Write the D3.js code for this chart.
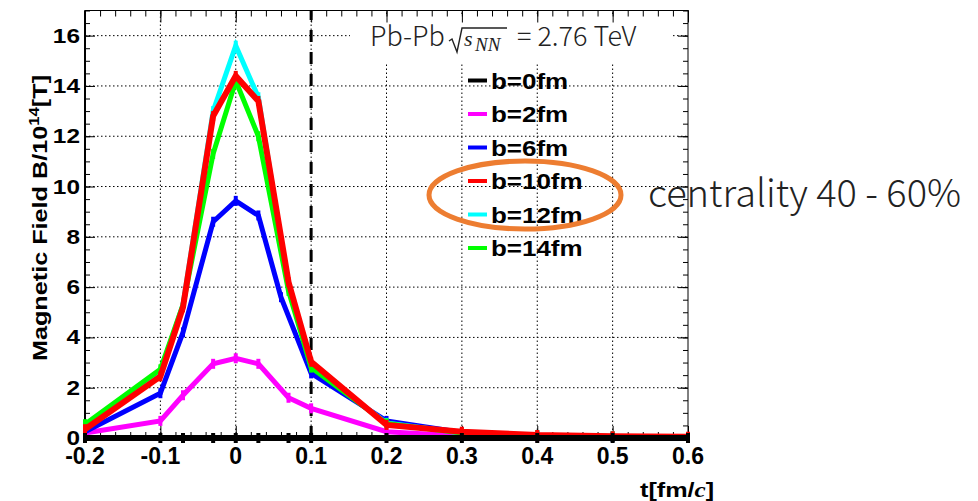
<!DOCTYPE html>
<html>
<head>
<meta charset="utf-8">
<script src="https://cdn.jsdelivr.net/npm/d3@7"></script>
<style>
  body { margin: 0; background: #fff; }
</style>
</head>
<body>
<div id="chart"></div>
<script>
// time points [fm/c]
var times = [-0.2, -0.1, -0.07, -0.03, 0, 0.03, 0.07, 0.1, 0.2, 0.3, 0.4, 0.5, 0.6];
var timesB6 = [-0.2, -0.1, -0.07, -0.03, 0, 0.03, 0.06, 0.1, 0.2, 0.3, 0.4, 0.5, 0.6];

// B / 10^14 T for each impact parameter
var b0 = [0, 0, 0, 0, 0, 0, 0, 0, 0, 0, 0, 0, 0];
var b2 = [0.2, 0.68, 1.7, 2.95, 3.17, 2.95, 1.6, 1.18, 0.25, 0.08, 0.05, 0.04, 0.03];
var b6 = [0.25, 1.78, 4.2, 8.6, 9.43, 8.85, 5.6, 2.57, 0.68, 0.22, 0.1, 0.06, 0.04];
var b10 = [0.35, 2.45, 5.2, 12.8, 14.4, 13.4, 6.2, 3.03, 0.52, 0.25, 0.12, 0.07, 0.05];
var b12 = [0.45, 2.6, 5.3, 13.0, 15.6, 13.55, 6.0, 2.85, 0.6, 0.2, 0.1, 0.06, 0.04];
var b14 = [0.55, 2.73, 5.3, 11.3, 14.2, 12.0, 5.85, 2.8, 0.58, 0.2, 0.1, 0.06, 0.04];

var seriesNames = ['b=0fm', 'b=2fm', 'b=6fm', 'b=10fm', 'b=12fm', 'b=14fm'];

var xTicks = [-0.2, -0.1, 0, 0.1, 0.2, 0.3, 0.4, 0.5, 0.6];
var xTickLabels = ['-0.2', '-0.1', '0', '0.1', '0.2', '0.3', '0.4', '0.5', '0.6'];
var yTicks = [0, 2, 4, 6, 8, 10, 12, 14, 16];
var yTickLabels = ['0', '2', '4', '6', '8', '10', '12', '14', '16'];
var cutTime = 0.1;

var series = [
  {name: seriesNames[0], t: times, v: b0, colour: '#000000', w: 6},
  {name: seriesNames[1], t: times, v: b2, colour: '#ff00ff', w: 5},
  {name: seriesNames[2], t: timesB6, v: b6, colour: '#0000ff', w: 5},
  {name: seriesNames[3], t: times, v: b10, colour: '#ff0000', w: 6},
  {name: seriesNames[4], t: times, v: b12, colour: '#00ffff', w: 5},
  {name: seriesNames[5], t: times, v: b14, colour: '#00ff00', w: 5}
];
var drawOrder = [1, 2, 4, 5, 3, 0];

var svg = d3.select('#chart')
  .append('svg')
    .attr('width', 978)
    .attr('height', 501);

var x = d3.scaleLinear().domain([-0.2, 0.6]).range([85, 688]);
var y = d3.scaleLinear().domain([0, 17]).range([438, 10.5]);

var xMinor = d3.range(-20, 61, 2).map(d => d / 100);
var yMinor = d3.range(0, 34.5, 1).map(d => d / 2);

// grid
var grid = svg.append('g');
grid.selectAll('.gx')
  .data(xTicks.slice(1, -1))
  .enter().append('line')
    .attr('x1', d => x(d)).attr('x2', d => x(d))
    .attr('y1', y(0)).attr('y2', y(17))
    .attr('stroke', '#000').attr('stroke-width', 1)
    .attr('stroke-dasharray', '1.5,2.5');
grid.selectAll('.gy')
  .data(yTicks.slice(1))
  .enter().append('line')
    .attr('x1', x(-0.2)).attr('x2', x(0.6))
    .attr('y1', d => y(d)).attr('y2', d => y(d))
    .attr('stroke', '#000').attr('stroke-width', 1)
    .attr('stroke-dasharray', '1.5,2.5');

// white box behind the collision label
svg.append('rect')
  .attr('x', 350).attr('y', 15).attr('width', 323).attr('height', 47)
  .attr('fill', '#fff');

// vertical cut line
svg.append('line')
  .attr('x1', x(cutTime)).attr('x2', x(cutTime))
  .attr('y1', y(0)).attr('y2', y(17))
  .attr('stroke', '#000').attr('stroke-width', 3)
  .attr('stroke-dasharray', '12,10');

// ticks
function tickAxis(axis, tx, ty) {
  var g = svg.append('g').attr('transform', 'translate(' + tx + ',' + ty + ')').call(axis);
  g.select('.domain').remove();
  g.selectAll('line').attr('stroke', '#000').attr('stroke-width', 1);
  return g;
}
tickAxis(d3.axisBottom(x).tickValues(xTicks).tickSize(-12).tickFormat(''), 0, y(0));
tickAxis(d3.axisBottom(x).tickValues(xMinor).tickSize(-6).tickFormat(''), 0, y(0));
tickAxis(d3.axisTop(x).tickValues(xTicks).tickSize(-12).tickFormat(''), 0, y(17));
tickAxis(d3.axisTop(x).tickValues(xMinor).tickSize(-6).tickFormat(''), 0, y(17));
tickAxis(d3.axisLeft(y).tickValues(yTicks).tickSize(-10).tickFormat(''), x(-0.2), 0);
tickAxis(d3.axisLeft(y).tickValues(yMinor).tickSize(-5).tickFormat(''), x(-0.2), 0);
tickAxis(d3.axisRight(y).tickValues(yTicks).tickSize(-10).tickFormat(''), x(0.6), 0);
tickAxis(d3.axisRight(y).tickValues(yMinor).tickSize(-5).tickFormat(''), x(0.6), 0);

// frame
svg.append('rect')
  .attr('x', x(-0.2)).attr('y', y(17))
  .attr('width', x(0.6) - x(-0.2)).attr('height', y(0) - y(17))
  .attr('fill', 'none').attr('stroke', '#000').attr('stroke-width', 1);
svg.append('line')
  .attr('x1', x(-0.2)).attr('x2', x(-0.2)).attr('y1', y(0)).attr('y2', y(17))
  .attr('stroke', '#000').attr('stroke-width', 2);

// curves
var line = d3.line()
  .x(d => x(d[0]))
  .y(d => y(d[1]));

var curves = svg.append('g');
drawOrder.forEach(function(i) {
  var s = series[i];
  var pts = s.t.map((t, k) => [t, s.v[k]]);
  var g = curves.append('g').attr('id', s.name);
  g.append('path')
    .datum(pts)
    .attr('d', line)
    .attr('fill', 'none')
    .attr('stroke', s.colour)
    .attr('stroke-width', s.w)
    .attr('stroke-linejoin', 'miter');
  g.selectAll('.err')
    .data(pts)
    .enter().append('line')
      .attr('x1', d => x(d[0])).attr('x2', d => x(d[0]))
      .attr('y1', d => y(d[1]) - 5).attr('y2', d => y(d[1]) + 5)
      .attr('stroke', s.colour).attr('stroke-width', 4);
});

// tick labels
var rootFont = "'Liberation Sans', Arial, Helvetica, sans-serif";
svg.append('g').selectAll('text')
  .data(xTicks)
  .enter().append('text')
    .attr('x', d => x(d))
    .attr('y', 464)
    .attr('text-anchor', 'middle')
    .style('font-family', rootFont)
    .style('font-weight', 'bold')
    .style('font-size', '23px')
    .text((d, i) => xTickLabels[i]);

svg.append('g').selectAll('text')
  .data(yTicks)
  .enter().append('text')
    .attr('transform', d => 'translate(80,' + (y(d) + 7) + ') scale(1.22,1)')
    .attr('text-anchor', 'end')
    .style('font-family', rootFont)
    .style('font-weight', 'bold')
    .style('font-size', '20px')
    .text((d, i) => yTickLabels[i]);

// axis titles
var yTitle = svg.append('text')
  .attr('transform', 'translate(47,218) rotate(-90) scale(1.2,1)')
  .attr('text-anchor', 'middle')
  .style('font-family', rootFont)
  .style('font-weight', 'bold')
  .style('font-size', '21px');
yTitle.append('tspan').text('Magnetic Field B/10');
yTitle.append('tspan').attr('dy', -8).style('font-size', '14px').text('14');
yTitle.append('tspan').attr('dy', 8).text('[T]');

var xTitle = svg.append('text')
  .attr('transform', 'translate(640,497) scale(1.2,1)')
  .style('font-family', rootFont)
  .style('font-weight', 'bold')
  .style('font-size', '21px');
xTitle.append('tspan').text('t[fm/');
xTitle.append('tspan').style('font-family', "'Liberation Serif', serif").style('font-style', 'italic').text('c');
xTitle.append('tspan').text(']');

// legend
var legend = svg.append('g');
var rows = legend.selectAll('g')
  .data(series)
  .enter().append('g')
    .attr('transform', (d, i) => 'translate(0,' + (80.5 + i * 33.5) + ')');
rows.append('line')
  .attr('x1', 468).attr('x2', 487)
  .attr('stroke', d => d.colour).attr('stroke-width', 4);
rows.append('text')
  .attr('transform', 'translate(491,8) scale(1.18,1)')
  .style('font-family', rootFont)
  .style('font-weight', 'bold')
  .style('font-size', '22px')
  .text(d => d.name);

// collision label
var slideFont = "'Noto Sans CJK JP', 'Noto Sans', sans-serif";
var mathFont = "'Liberation Serif', 'DejaVu Serif', serif";
svg.append('text')
  .attr('x', 370).attr('y', 46)
  .style('font-family', slideFont).style('font-weight', 300)
  .style('font-size', '27px').attr('fill', '#222')
  .text('Pb-Pb');
svg.append('path')
  .attr('d', 'M449,41 L452,39 L457,52 L462,28 L507,28')
  .attr('fill', 'none').attr('stroke', '#222').attr('stroke-width', 1.4);
svg.append('text')
  .attr('x', 464).attr('y', 46)
  .style('font-family', mathFont).style('font-style', 'italic')
  .style('font-size', '22px').attr('fill', '#222')
  .text('s');
svg.append('text')
  .attr('x', 475).attr('y', 51)
  .style('font-family', mathFont).style('font-style', 'italic')
  .style('font-size', '19px').attr('fill', '#222')
  .text('NN');
svg.append('text')
  .attr('x', 517).attr('y', 46)
  .style('font-family', slideFont).style('font-weight', 300)
  .style('font-size', '27px').attr('fill', '#222')
  .text('= 2.76 TeV');

// annotation
svg.append('text')
  .attr('x', 648).attr('y', 207)
  .style('font-family', slideFont).style('font-weight', 300)
  .style('font-size', '38px').attr('fill', '#222')
  .text('centrality 40 - 60%');

svg.append('ellipse')
  .attr('cx', 525).attr('cy', 195).attr('rx', 96).attr('ry', 34)
  .attr('fill', 'none').attr('stroke', '#ed7d31').attr('stroke-width', 5);
</script>
</body>
</html>
